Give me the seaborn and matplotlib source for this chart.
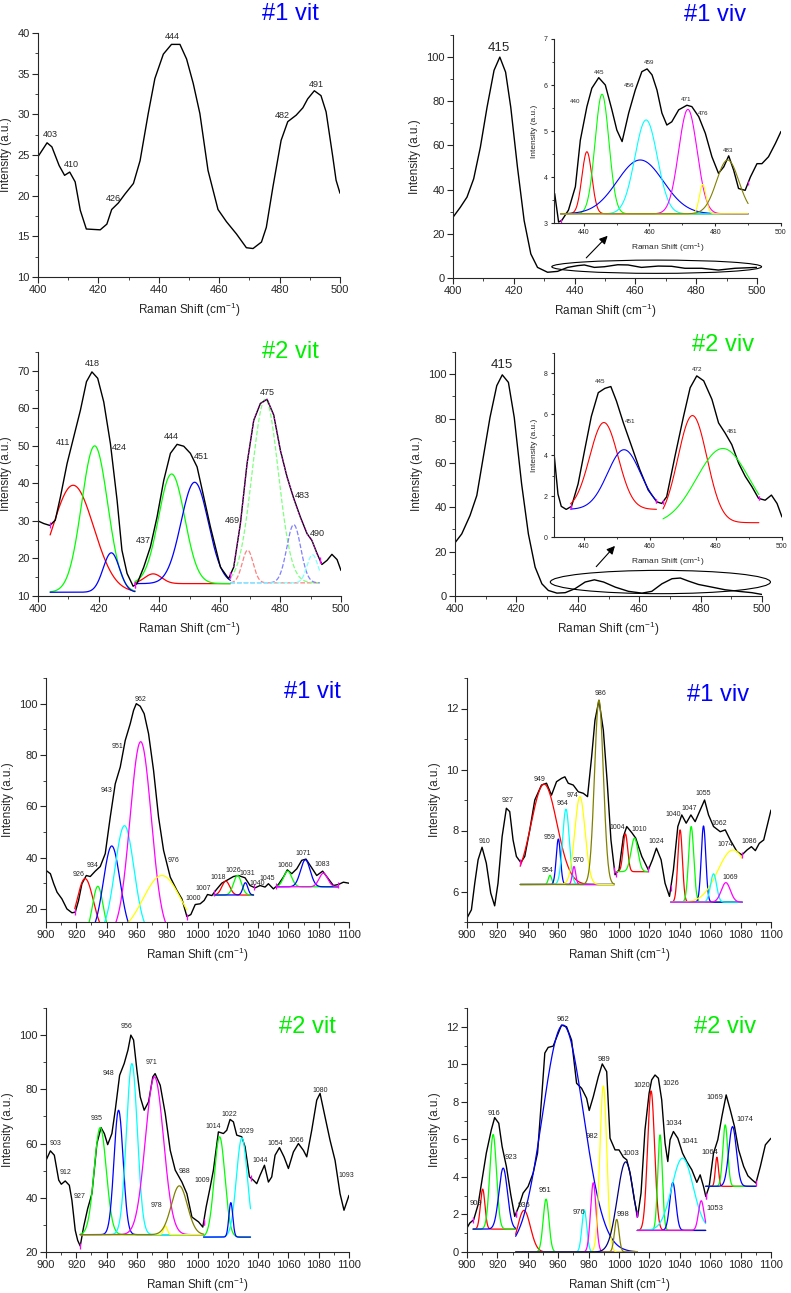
import matplotlib
matplotlib.use('Agg')

import numpy as np
import matplotlib.pyplot as plt
from matplotlib.patches import Ellipse
from matplotlib.ticker import MultipleLocator, AutoMinorLocator
import seaborn as sns

W, H = 791, 1293

R, G, B, C, M, Y, O = '#ff0000', '#00ff00', '#0000ff', '#00ffff', '#ff00ff', '#ffff00', '#808000'
NAVY = '#000080'
PR, PG, PB, PC = '#ff8080', '#80ff80', '#8080ff', '#80ffff'

# ---------------- #1 vit, 400-500 ----------------
vit1_lo_x = [400, 403, 404.6, 407, 408.8, 410.5, 412.3, 414, 416, 420.6, 422.8, 424.4, 426.6, 428.8, 431.6,
             433.8, 436.5, 438.7, 441.5, 444.2, 447, 449.2, 451.4, 453.6, 456.3, 459.6, 462.4, 465.7, 469,
             471.2, 474, 475.6, 477.8, 480.5, 482.7, 485.5, 487.7, 489.3, 491.5, 493.7, 495.4, 497.6, 498.7, 500]
vit1_lo_y = [24.8, 26.5, 26.0, 23.7, 22.5, 22.9, 21.7, 18.2, 15.9, 15.8, 16.5, 18.3, 19.1, 20.2, 21.5,
             24.3, 30.1, 34.4, 37.4, 38.6, 38.6, 36.8, 33.8, 30.1, 23.1, 18.3, 16.8, 15.3, 13.6,
             13.5, 14.3, 16.1, 21.1, 26.8, 29.1, 29.9, 30.8, 31.9, 32.9, 32.3, 30.3, 24.8, 21.9, 20.3]
vit1_lo_tags = ['403', '410', '426', '444', '482', '491']
vit1_lo_tag_x = [404, 411, 425, 444.4, 480.9, 492]
vit1_lo_tag_y = [27.5, 23.8, 19.7, 39.6, 29.8, 33.7]

# ---------------- #1 viv, 400-500 ----------------
viv1_lo_x = [400, 402.4, 404.6, 406.8, 409, 411.2, 413.5, 415.4, 417.3, 419, 421.2, 423.4, 425.6, 427.8,
             431.1, 434.4, 437.7, 441, 443.2, 446.5, 449.8, 454.2, 457.6, 462, 467.5, 471.9, 476.3,
             481.8, 487.3, 492.8, 500]
viv1_lo_y = [27.5, 32, 36.6, 44.9, 59.2, 77.3, 94, 100, 93.2, 77.3, 50.2, 26, 10.9, 4.8,
             2.6, 3.0, 4.8, 5.6, 5.9, 4.8, 5.1, 6.0, 5.9, 4.8, 5.4, 5.3, 4.4,
             4.4, 3.6, 4.4, 4.8]
# zoomed inset
viv1_in_x = [431.2, 432.4, 433.4, 435.4, 437.5, 439, 441, 442.5, 444.6, 446.6, 448.6, 450.1, 451.7, 453.7,
             455.7, 457.7, 459.3, 460.8, 462.3, 463.8, 465.3, 466.8, 468.9, 471.4, 472.9, 475, 477, 479,
             481, 482.6, 484.1, 485.6, 487.1, 489.1, 490.7, 492.7, 494.2, 496.2, 498.3, 500]
viv1_in_y = [3.64, 3.02, 3.06, 3.28, 3.79, 4.80, 5.53, 5.93, 6.16, 6.0, 5.46, 5.02, 4.77, 5.39,
             5.89, 6.29, 6.35, 6.22, 5.89, 5.39, 5.13, 5.2, 5.46, 5.56, 5.53, 5.31, 4.95, 4.44,
             4.08, 4.22, 4.46, 4.15, 3.75, 3.71, 4.0, 4.29, 4.29, 4.44, 4.73, 4.99]
viv1_in_range = [(433, 490)]
viv1_in_base = [3.2]
viv1_in_group = [0, 0, 0, 0, 0, 0, 0]
viv1_in_center = [441.0, 445.6, 457.2, 459.0, 471.7, 476.2, 483.8]
viv1_in_peak = [4.55, 5.8, 4.37, 5.24, 5.47, 3.84, 4.37]
viv1_in_sigma = [1.5, 2.1, 7.0, 3.4, 2.8, 1.0, 3.4]
viv1_in_colors = [R, G, B, C, M, Y, O]
viv1_in_tags = ['440', '445', '456', '459', '471', '476', '483']
viv1_in_tag_x = [437.5, 444.8, 453.7, 460, 471.1, 476.2, 484]
viv1_in_tag_y = [5.64, 6.28, 5.98, 6.5, 5.68, 5.39, 4.57]

# ---------------- #2 vit, 400-500 ----------------
vit2_lo_x = [400, 401.9, 403.9, 405.7, 407.4, 409.6, 411.8, 414, 416, 417.8, 419.7, 421.7, 423.9, 426.1,
             427.7, 429.4, 431.4, 432.7, 434.9, 437.1, 439.3, 441.5, 443.7, 445.9, 448.1, 450.3, 452.5,
             454.7, 456.9, 460.2, 462.9, 464.6, 466.8, 469, 471.2, 473.4, 475.6, 477.8, 480, 482.2,
             484.4, 486.6, 488.8, 490.4, 492.1, 493.7, 495.4, 497, 498.7, 500]
vit2_lo_y = [30.0, 29.3, 28.8, 30.2, 36.4, 45.3, 52.4, 59.5, 67.1, 69.7, 68.0, 61.7, 50.6, 35.5,
             22.2, 16.0, 12.6, 13.3, 17.7, 23.1, 31.1, 40.8, 48.0, 50.4, 49.9, 48.0, 44.4,
             36.4, 28.4, 17.7, 14.6, 17.7, 29.3, 45.3, 56.8, 61.3, 62.4, 58.2, 48.8, 41.7,
             36.0, 31.0, 26.6, 24.8, 21.3, 18.4, 19.5, 21.1, 19.7, 16.8]
vit2_lo_range = [(404, 432), (432, 463.5), (463.5, 493)]
vit2_lo_base = [11.0, 13.3, 13.5]
vit2_lo_group = [0, 0, 0, 1, 1, 1, 2, 2, 2, 2]
vit2_lo_center = [411.6, 418.7, 424.2, 438.0, 444.1, 451.7, 469.2, 475.0, 484.4, 490.6]
vit2_lo_peak = [39.5, 50.0, 21.5, 15.9, 42.5, 40.3, 22.2, 62.4, 29.0, 21.0]
vit2_lo_sigma = [6.8, 4.3, 2.7, 2.8, 4.3, 4.5, 1.8, 4.3, 2.3, 1.8]
vit2_lo_colors = [R, G, B, R, G, B, PR, PG, PB, PC]
vit2_lo_styles = ['-'] * 6 + ['--'] * 4
vit2_lo_tags = ['411', '418', '424', '437', '444', '451', '469', '475', '483', '490']
vit2_lo_tag_x = [408.1, 418, 426.8, 434.7, 444, 453.9, 464.2, 475.6, 487.1, 492.3]
vit2_lo_tag_y = [50.8, 72, 49.5, 24.7, 52.4, 47.1, 30, 64.1, 36.7, 26.6]

# ---------------- #2 viv, 400-500 ----------------
viv2_lo_x = [400, 402.2, 404.9, 407.1, 409.2, 411.4, 413.6, 415.4, 417.4, 419.3, 421.7, 423.9, 426.1,
             428.3, 430.4, 433.2, 435.9, 439.1, 442.4, 445.4, 448.4, 452.2, 456.5, 460.9, 464.1, 467.4,
             470.7, 473.4, 476.1, 479.3, 483.7, 488, 492.4, 496.7, 500]
viv2_lo_y = [24, 28, 36.3, 45.3, 62.5, 80.5, 94.8, 99.7, 96.3, 80.5, 50.5, 28, 13,
             5.5, 2.5, 1.3, 1.5, 3.3, 6.3, 7.3, 6.3, 4, 2.1, 1.3, 2.1, 5.5,
             7.8, 8.1, 6.7, 5.2, 4, 2.8, 2.1, 1.5, 0.7]
viv2_in_x = [431, 432.2, 433.2, 434.7, 436.3, 438.3, 440.3, 442.3, 444.4, 446.4, 448.2, 449.9, 452,
             454.5, 457, 459.5, 462.1, 463.6, 465.1, 467.6, 470.2, 472.2, 474.2, 476.3, 478.8, 480.8,
             482.8, 484.8, 486.9, 488.9, 490.9, 492.9, 494.9, 496.8, 498.5, 500]
viv2_in_y = [4.1, 2.1, 1.5, 1.35, 1.5, 2.6, 4.27, 5.9, 7.06, 7.27, 7.36, 6.65, 5.58,
             4.43, 3.28, 2.3, 1.72, 1.64, 1.97, 3.94, 5.9, 7.3, 7.88, 7.64, 6.73, 5.58,
             5.08, 4.52, 3.6, 2.96, 2.46, 1.89, 1.8, 2.05, 1.64, 0.98]
viv2_in_range = [(436, 462), (436, 462), (464, 493), (464, 493)]
viv2_in_base = [1.35, 1.35, 0.7, 0.6]
viv2_in_group = [0, 1, 2, 3]
viv2_in_center = [446.1, 452.2, 472.9, 482.1]
viv2_in_peak = [5.6, 4.27, 5.94, 4.33]
viv2_in_sigma = [4.3, 5.0, 4.4, 8.0]
viv2_in_colors = [R, B, R, G]
viv2_in_tags = ['445', '451', '472', '481']
viv2_in_tag_x = [445, 454, 474.2, 484.8]
viv2_in_tag_y = [7.6, 5.67, 8.2, 5.16]

# ---------------- #1 vit, 900-1100 ----------------
vit1_hi_x = [900, 902.9, 905.1, 907.3, 910.5, 913.8, 917.1, 919.3, 921.5, 923.7, 926.6, 929.2, 932.5,
             935.8, 939.1, 942.4, 945.7, 949, 952.3, 955.6, 957.8, 959.6, 962.2, 964.8, 967.7, 971,
             974.3, 977.6, 982, 986.4, 989.7, 993, 995.6, 998.5, 1001.8, 1004.4, 1006.6, 1009.5,
             1012.3, 1016, 1019.3, 1023.7, 1027, 1031.4, 1034.7, 1038, 1041.3, 1044.6, 1046.8, 1050.1,
             1053.4, 1056.7, 1059.3, 1062.2, 1065.5, 1068.8, 1071.6, 1075.4, 1078.7, 1082.6, 1086.4,
             1089.7, 1093, 1096.3, 1100]
vit1_hi_y = [35.1, 33.8, 29.9, 26.6, 24, 20.1, 18.6, 18.8, 23.4, 29.9, 33.1, 32.7, 34.8,
             36.6, 41.6, 55.8, 68.8, 75.3, 85.7, 92.2, 97.4, 100, 99, 96.1, 88.3, 74,
             55.8, 42.9, 32.5, 27.3, 24, 17.1, 17.9, 21.8, 22.1, 23.4, 25.7, 25.3,
             27.5, 30.1, 31.2, 32.7, 33.1, 32.2, 29.2, 28.3, 29.2, 28.6, 29.9, 27.9,
             29.6, 32.5, 35.3, 33.8, 35.7, 39, 39.5, 36.1, 33.1, 34.8, 31.8,
             29.2, 29.6, 30.5, 30.1]
vit1_hi_range = [(919, 993), (1011, 1037), (1052, 1093)]
vit1_hi_base = [10, 25.5, 28.7]
vit1_hi_group = [0, 0, 0, 0, 0, 0, 1, 1, 1, 2, 2, 2]
vit1_hi_center = [925.8, 934.2, 943.4, 951.8, 962.5, 976.5, 1018.7, 1026.4, 1031.6, 1059.5, 1071.2, 1083.1]
vit1_hi_peak = [31.9, 28.9, 44.6, 52.5, 85.2, 33.1, 30.9, 33.1, 30.3, 34.8, 39.2, 34.0]
vit1_hi_sigma = [5.5, 3.5, 5.5, 6.3, 7.0, 12.5, 2.6, 2.6, 1.6, 2.7, 3.2, 2.8]
vit1_hi_colors = [R, G, B, C, M, Y, R, G, B, G, B, M]
vit1_hi_tags = ['926', '934', '943', '951', '962', '976', '1000', '1007', '1018', '1026', '1031',
                '1040', '1045', '1060', '1071', '1083']
vit1_hi_tag_x = [921.5, 931, 939.8, 947.3, 962.6, 984.2, 997, 1004, 1013.8, 1023.7, 1033,
                 1039.6, 1045.7, 1058.2, 1069.9, 1082.6]
vit1_hi_tag_y = [33.5, 37, 66.2, 83.5, 101.6, 39, 24, 27.9, 32.5, 35.1, 33.8,
                 29.9, 31.8, 37, 41.8, 37.3]

# ---------------- #1 viv, 900-1100 ----------------
viv1_hi_x = [900, 902.9, 905.1, 907.3, 909.9, 912.7, 915.6, 918.2, 920.4, 923.1, 925.9, 928.1, 930.3,
             932.5, 935.4, 938, 941.3, 944.6, 949, 952.3, 955.6, 958.9, 962.2, 964.4, 966.6, 969.9,
             973.2, 976.5, 979.3, 982, 984.2, 986.8, 989.7, 992.3, 994.7, 997.4, 1000, 1002.9, 1005.1,
             1008.4, 1011, 1015, 1019.3, 1022, 1024.6, 1027.7, 1030.3, 1033.2, 1035.8, 1038.7, 1041.3,
             1044.2, 1047.3, 1050.1, 1053.4, 1056.3, 1058.9, 1062.2, 1066.6, 1069.9, 1073.2, 1077.6,
             1080.9, 1084.2, 1087.1, 1089.7, 1092.3, 1095.2, 1100]
viv1_hi_y = [5.13, 5.4, 6.27, 7.04, 7.45, 6.93, 5.95, 5.53, 6.27, 7.8, 8.73, 8.62, 7.69,
             7.15, 6.95, 7.15, 8.02, 9.0, 9.49, 9.55, 9.16, 9.6, 9.71, 9.76, 9.55, 9.49,
             9.27, 9.22, 9.11, 10.42, 11.62, 12.27, 11.29, 9.55, 7.69, 6.55, 6.71, 7.8, 8.13,
             7.93, 7.75, 7.15, 6.71, 7.04, 7.42, 7.04, 6.27, 5.84, 6.71, 8.13, 8.51,
             8.24, 8.51, 8.29, 8.67, 9.0, 8.51, 8.13, 7.96, 8.02, 7.69, 7.31,
             7.2, 7.36, 7.47, 7.34, 7.58, 7.69, 8.67]
viv1_hi_range = [(935, 997), (998, 1019), (1034, 1081)]
viv1_hi_base = [6.23, 6.65, 5.65]
viv1_hi_group = [0, 0, 0, 0, 0, 0, 0, 1, 1, 2, 2, 2, 2, 2, 2]
viv1_hi_center = [950.7, 954.6, 960.1, 965.1, 970.4, 974.3, 986.8, 1004.2, 1010.2,
                  1040.2, 1047.5, 1055.6, 1075.0, 1062.2, 1070.3]
viv1_hi_peak = [9.52, 6.53, 7.72, 8.70, 6.82, 9.11, 12.27, 7.89, 7.75,
                8.02, 8.13, 8.15, 7.36, 6.58, 6.29]
viv1_hi_sigma = [8.5, 1.1, 1.4, 2.2, 1.1, 3.4, 2.9, 1.5, 2.3,
                 1.5, 1.7, 1.5, 10.0, 2.0, 3.0]
viv1_hi_colors = [R, G, B, C, M, Y, O, R, G, R, G, B, Y, C, M]
viv1_hi_tags = ['910', '927', '949', '954', '959', '964', '970', '974', '986', '1004', '1010', '1024',
                '1040', '1047', '1055', '1062', '1074', '1086', '1069']
viv1_hi_tag_x = [911.8, 926.7, 948, 953, 954.5, 962.9, 973.2, 969.5, 988, 999.1, 1013.2, 1024.8,
                 1035.8, 1046.2, 1055.6, 1066, 1069.9, 1085.7, 1073.2]
viv1_hi_tag_y = [7.64, 8.98, 9.68, 6.68, 7.78, 8.89, 7.01, 9.14, 12.49, 8.1, 8.02, 7.63,
                 8.54, 8.72, 9.2, 8.24, 7.53, 7.64, 6.47]

# ---------------- #2 vit, 900-1100 ----------------
vit2_hi_x = [900, 902.9, 905.5, 908.4, 910.1, 912.7, 915.4, 917.1, 919.3, 920.9, 922.6, 924.8, 927.5,
             930.3, 933.6, 936.3, 938.5, 940.7, 943.5, 945.7, 948.6, 951.6, 954.1, 956, 957.8, 960,
             962.2, 964.8, 967.7, 970.5, 972, 975.4, 978.7, 982, 985.3, 989.7, 993, 996.3, 1000.7,
             1003.5, 1005.7, 1008.4, 1010.5, 1013.8, 1017.1, 1019.3, 1021.5, 1023.7, 1025.9, 1029.2,
             1031.4, 1034.3, 1036.9, 1039.1, 1041.3, 1044.2, 1046.8, 1049, 1051.2, 1054.1, 1057.1,
             1060, 1063.3, 1066.6, 1069.9, 1072.1, 1075.4, 1078.7, 1080.9, 1084.2, 1087.5, 1090.8,
             1094.1, 1096.7, 1100]
vit2_hi_y = [53.8, 57.3, 55.7, 46.5, 45, 46.2, 44.6, 39.1, 28, 24.3, 22.2, 29.2, 36,
             41.5, 60, 65.9, 63.7, 59.6, 63.7, 72.3, 85.2, 89.5, 94.5, 100, 98.2, 87.1,
             77.2, 72.3, 75.4, 84.6, 85.8, 81.5, 71.1, 57.5, 50.2, 45.8, 41.5, 32.9, 31.1,
             29.2, 36.6, 44, 50.2, 64.3, 63.7, 64.9, 68.9, 68, 63.1, 62.5,
             58.8, 47.7, 46.5, 45.2, 48.3, 52, 45.8, 47.7, 55.7, 58.5, 55.1,
             50.8, 56.9, 60, 57.5, 55.1, 64.9, 76, 78.5, 69.8, 61.2, 53.8,
             41.5, 35.4, 40.9]
vit2_hi_range = [(922.5, 1004), (1004, 1035)]
vit2_hi_base = [26.4, 25.5]
vit2_hi_group = [0, 0, 0, 0, 0, 0, 1, 1, 1]
vit2_hi_center = [935.8, 947.9, 956.7, 971.6, 978.8, 988.0, 1014.6, 1029.3, 1022.0]
vit2_hi_peak = [65.9, 72.3, 89.5, 84.6, 29.6, 44.4, 62.5, 62.1, 38.2]
vit2_hi_sigma = [4.0, 3.0, 3.6, 6.0, 1.2, 5.3, 3.5, 3.6, 1.3]
vit2_hi_colors = [G, B, C, M, Y, O, G, C, B]
vit2_hi_tags = ['903', '912', '927', '935', '948', '956', '971', '978', '988', '1009', '1014', '1022',
                '1029', '1044', '1054', '1066', '1080', '1093']
vit2_hi_tag_x = [906.2, 913.2, 922.2, 933.2, 941.3, 953.4, 969.5, 973, 991.2, 1002.9, 1010.1, 1021.1,
                 1032.5, 1041.3, 1051.6, 1065, 1080.9, 1098.5]
vit2_hi_tag_y = [60.2, 49.3, 40.3, 69.1, 85.8, 103.3, 89.8, 37, 49.8, 46.5, 66.4, 70.8,
                 64.6, 53.8, 60, 61.2, 79.7, 48.3]

# ---------------- #2 viv, 900-1100 ----------------
viv2_hi_x = [900, 901.8, 904.4, 907.3, 909.9, 912.7, 916, 918.2, 920.9, 923.1, 925.9, 928.8, 931.4,
             934.1, 936.9, 940.2, 943.5, 946.4, 949, 951.2, 953.4, 956.7, 960, 962.2, 965.5, 968.8,
             972.1, 975.4, 978.7, 980.4, 983.1, 986.4, 989, 991.9, 994.1, 997.4, 1000, 1002.9, 1005.1,
             1007.3, 1010.1, 1012.3, 1014.5, 1017.1, 1019.8, 1021.5, 1023.7, 1025.9, 1028.1, 1030.3,
             1032.1, 1033.6, 1035.8, 1038.7, 1041.8, 1044.6, 1047.9, 1051.2, 1053.4, 1055.6, 1057.1,
             1059.3, 1062.2, 1065, 1067.7, 1070.5, 1073.2, 1076, 1078.7, 1082, 1084.8, 1087.5,
             1090.1, 1093, 1096.3, 1100]
viv2_hi_y = [1.28, 1.54, 1.72, 2.52, 3.85, 5.27, 6.51, 7.16, 6.86, 5.62, 4.56, 3.05, 1.9,
             2.43, 3.14, 3.49, 4.2, 5.27, 8.1, 10.6, 10.9, 10.97, 11.65, 12.09, 12.0, 11.29,
             8.99, 8.72, 8.19, 7.54, 8.28, 9.34, 10.02, 9.61, 6.06, 5.44, 5.44, 5.05, 4.91,
             4.2, 2.78, 1.9, 3.14, 6.51, 8.46, 9.17, 9.43, 9.26, 8.1, 5.8,
             4.82, 5.98, 6.42, 6.06, 5.27, 4.82, 4.38, 3.71, 4.11, 3.49, 2.96,
             3.49, 5.27, 5.98, 7.22, 8.37, 7.57, 6.68, 5.44, 4.56, 4.06, 3.85,
             3.67, 4.56, 5.71, 6.06]
viv2_hi_range = [(904, 932), (932, 1012), (1012, 1057), (1057, 1090)]
viv2_hi_base = [1.22, 0.0, 1.15, 3.5]
viv2_hi_group = [0, 0, 0, 1, 1, 1, 1, 1, 1, 1, 1, 2, 2, 2, 2, 2, 3, 3, 3]
viv2_hi_center = [910.3, 917.2, 923.8, 937.5, 952.0, 963.2, 977.2, 983.1, 989.7, 998.5, 1004.4,
                  1021.1, 1027.0, 1035.4, 1041.8, 1054.1, 1064.4, 1069.9, 1074.7]
viv2_hi_peak = [3.35, 6.26, 4.47, 2.22, 2.82, 12.09, 2.24, 3.69, 8.85, 1.74, 4.8,
                8.58, 6.24, 3.7, 5.0, 2.73, 5.05, 6.77, 6.68]
viv2_hi_sigma = [1.5, 2.2, 2.8, 4.2, 1.9, 13.5, 1.6, 1.8, 2.3, 1.5, 5.5,
                 2.3, 1.5, 2.0, 7.0, 1.8, 1.0, 1.6, 2.5]
viv2_hi_colors = [R, G, B, R, G, B, C, M, Y, O, NAVY, R, G, B, C, M, R, G, B]
viv2_hi_tags = ['909', '916', '923', '936', '951', '962', '976', '982', '989', '998', '1003', '1020',
                '1026', '1034', '1041', '1053', '1064', '1069', '1074']
viv2_hi_tag_x = [905.7, 917.8, 929.2, 937.4, 951.6, 962.9, 973.8, 982, 990.3, 1002.9, 1007.9, 1014.9,
                 1034, 1036.3, 1046.4, 1062.9, 1060, 1063.3, 1083.1]
viv2_hi_tag_y = [2.6, 7.4, 5.05, 2.5, 3.3, 12.4, 2.13, 6.15, 10.27, 1.99, 5.23, 8.87,
                 8.99, 6.83, 5.89, 2.3, 5.3, 8.24, 7.04]


def px_axes(fig, left, right, top, bottom):
    # axes box given in pixels of the final image
    return fig.add_axes([left / W, 1 - bottom / H, (right - left) / W, (bottom - top) / H])


def setup(ax, xlim, ylim, xstep, ystep, tick=8, lab=8.5, tlen=4):
    ax.set_xlim(*xlim)
    ax.set_ylim(*ylim)
    ax.xaxis.set_major_locator(MultipleLocator(xstep))
    ax.yaxis.set_major_locator(MultipleLocator(ystep))
    ax.xaxis.set_minor_locator(AutoMinorLocator(2))
    ax.yaxis.set_minor_locator(AutoMinorLocator(2))
    ax.tick_params(which='major', direction='out', length=tlen, width=0.8, labelsize=tick, pad=2)
    ax.tick_params(which='minor', direction='out', length=tlen / 2, width=0.6)
    ax.set_xlabel('Raman Shift (cm$^{-1}$)', fontsize=lab)
    ax.set_ylabel('Intensity (a.u.)', fontsize=lab)
    ax.set_facecolor('none')
    sns.despine(ax=ax)


def draw_spectrum(ax, x, y):
    sns.lineplot(x=x, y=y, ax=ax, color='black', lw=1.0)


def draw_fit(ax, ranges, bases, group, centers, peaks, sigmas, colors, styles=None, lw=0.9):
    # each fitted band is a gaussian drawn over its own fitting window
    if styles is None:
        styles = ['-'] * len(centers)
    for g, c, p, s, col, ls in zip(group, centers, peaks, sigmas, colors, styles):
        lo, hi = ranges[g]
        b = bases[g]
        xs = np.linspace(lo, hi, 300)
        ys = b + (p - b) * np.exp(-0.5 * ((xs - c) / s) ** 2)
        sns.lineplot(x=xs, y=ys, ax=ax, color=col, lw=lw, linestyle=ls)


def mark_ends(ax, ranges, sx, sy, ms=4):
    for lo, hi in ranges:
        for x in (lo, hi):
            ax.plot(x, np.interp(x, sx, sy), marker='|', color=M, ms=ms, mew=0.9)


def add_tags(ax, tags, xs, ys, size):
    for t, x, y in zip(tags, xs, ys):
        ax.text(x, y, t, ha='center', va='center', fontsize=size)


sns.set_theme(style='ticks')
plt.rcParams['font.family'] = ['Liberation Sans', 'DejaVu Sans']
plt.rcParams['mathtext.default'] = 'regular'
plt.rcParams['axes.linewidth'] = 0.8

fig = plt.figure(figsize=(W / 100, H / 100), dpi=100)

# ---- row 1, left: #1 vit ----
ax = px_axes(fig, 38, 340, 33, 277)
draw_spectrum(ax, vit1_lo_x, vit1_lo_y)
add_tags(ax, vit1_lo_tags, vit1_lo_tag_x, vit1_lo_tag_y, 6.5)
setup(ax, (400, 500), (10, 40), 20, 5)

# ---- row 1, right: #1 viv with inset ----
ax = px_axes(fig, 453, 757, 35, 278)
draw_spectrum(ax, viv1_lo_x, viv1_lo_y)
ax.text(415.1, 104, '415', ha='center', va='center', fontsize=9.5)
ax.add_patch(Ellipse((467, 5.1), 69, 6, fill=False, lw=0.8, ec='black', clip_on=False))
ax.annotate('', xy=(451.5, 20), xytext=(443.2, 8.2),
            arrowprops=dict(arrowstyle='-|>', color='black', lw=0.8, mutation_scale=12))
setup(ax, (400, 500), (0, 110), 20, 20)

ins = px_axes(fig, 554, 781, 39, 223)
draw_spectrum(ins, viv1_in_x, viv1_in_y)
draw_fit(ins, viv1_in_range, viv1_in_base, viv1_in_group, viv1_in_center, viv1_in_peak,
         viv1_in_sigma, viv1_in_colors, lw=0.8)
mark_ends(ins, viv1_in_range, viv1_in_x, viv1_in_y, ms=3)
add_tags(ins, viv1_in_tags, viv1_in_tag_x, viv1_in_tag_y, 4.5)
setup(ins, (431, 500), (3, 7), 20, 1, tick=5, lab=6, tlen=2.5)

# ---- row 2, left: #2 vit ----
ax = px_axes(fig, 38, 341, 352, 596)
draw_fit(ax, vit2_lo_range, vit2_lo_base, vit2_lo_group, vit2_lo_center, vit2_lo_peak,
         vit2_lo_sigma, vit2_lo_colors, styles=vit2_lo_styles)
draw_spectrum(ax, vit2_lo_x, vit2_lo_y)
# cumulative fit of the last window sits on top of the data
sx = np.array(vit2_lo_x)
sy = np.array(vit2_lo_y)
sel = (sx >= 463) & (sx <= 493.7)
sns.lineplot(x=sx[sel], y=sy[sel], ax=ax, color=M, lw=0.8, linestyle=':')
mark_ends(ax, vit2_lo_range, vit2_lo_x, vit2_lo_y)
add_tags(ax, vit2_lo_tags, vit2_lo_tag_x, vit2_lo_tag_y, 6.5)
setup(ax, (400, 500), (10, 75), 20, 10)

# ---- row 2, right: #2 viv with inset ----
ax = px_axes(fig, 455, 762, 352, 596)
draw_spectrum(ax, viv2_lo_x, viv2_lo_y)
ax.text(415.2, 104, '415', ha='center', va='center', fontsize=9.5)
ax.add_patch(Ellipse((466.9, 6.3), 71.7, 10.5, fill=False, lw=0.8, ec='black', clip_on=False))
ax.annotate('', xy=(452.7, 23.5), xytext=(445.4, 12.3),
            arrowprops=dict(arrowstyle='-|>', color='black', lw=0.8, mutation_scale=12))
setup(ax, (400, 500), (0, 110), 20, 20)

ins = px_axes(fig, 554, 782, 353, 537)
draw_spectrum(ins, viv2_in_x, viv2_in_y)
draw_fit(ins, viv2_in_range, viv2_in_base, viv2_in_group, viv2_in_center, viv2_in_peak,
         viv2_in_sigma, viv2_in_colors, lw=0.8)
mark_ends(ins, viv2_in_range, viv2_in_x, viv2_in_y, ms=3)
add_tags(ins, viv2_in_tags, viv2_in_tag_x, viv2_in_tag_y, 4.5)
setup(ins, (431, 500), (0, 9), 20, 2, tick=5, lab=6, tlen=2.5)

# ---- row 3, left: #1 vit high range ----
ax = px_axes(fig, 46, 349, 678, 922)
draw_spectrum(ax, vit1_hi_x, vit1_hi_y)
draw_fit(ax, vit1_hi_range, vit1_hi_base, vit1_hi_group, vit1_hi_center, vit1_hi_peak,
         vit1_hi_sigma, vit1_hi_colors)
mark_ends(ax, vit1_hi_range, vit1_hi_x, vit1_hi_y)
add_tags(ax, vit1_hi_tags, vit1_hi_tag_x, vit1_hi_tag_y, 5)
setup(ax, (900, 1100), (15, 110), 20, 20)

# ---- row 3, right: #1 viv high range ----
ax = px_axes(fig, 467, 771, 678, 922)
draw_spectrum(ax, viv1_hi_x, viv1_hi_y)
draw_fit(ax, viv1_hi_range, viv1_hi_base, viv1_hi_group, viv1_hi_center, viv1_hi_peak,
         viv1_hi_sigma, viv1_hi_colors)
mark_ends(ax, viv1_hi_range, viv1_hi_x, viv1_hi_y)
add_tags(ax, viv1_hi_tags, viv1_hi_tag_x, viv1_hi_tag_y, 5)
setup(ax, (900, 1100), (5, 13), 20, 2)

# ---- row 4, left: #2 vit high range ----
ax = px_axes(fig, 46, 349, 1008, 1252)
draw_spectrum(ax, vit2_hi_x, vit2_hi_y)
draw_fit(ax, vit2_hi_range, vit2_hi_base, vit2_hi_group, vit2_hi_center, vit2_hi_peak,
         vit2_hi_sigma, vit2_hi_colors)
mark_ends(ax, vit2_hi_range, vit2_hi_x, vit2_hi_y)
add_tags(ax, vit2_hi_tags, vit2_hi_tag_x, vit2_hi_tag_y, 5)
setup(ax, (900, 1100), (20, 110), 20, 20)

# ---- row 4, right: #2 viv high range ----
ax = px_axes(fig, 467, 771, 1008, 1252)
draw_spectrum(ax, viv2_hi_x, viv2_hi_y)
draw_fit(ax, viv2_hi_range, viv2_hi_base, viv2_hi_group, viv2_hi_center, viv2_hi_peak,
         viv2_hi_sigma, viv2_hi_colors)
mark_ends(ax, viv2_hi_range, viv2_hi_x, viv2_hi_y)
add_tags(ax, viv2_hi_tags, viv2_hi_tag_x, viv2_hi_tag_y, 5.5)
setup(ax, (900, 1100), (0, 13), 20, 2)

# sample titles
titles = ['#1 vit', '#1 viv', '#2 vit', '#2 viv', '#1 vit', '#1 viv', '#2 vit', '#2 viv']
title_colors = ['#0000ff', '#0000ff', '#00ee00', '#00ee00', '#0000ff', '#0000ff', '#00ee00', '#00ee00']
title_px = [(290, 14), (715, 15), (290, 352), (723, 345), (312, 692), (718, 695), (307, 1027), (725, 1027)]
for t, col, (px, py) in zip(titles, title_colors, title_px):
    fig.text(px / W, 1 - py / H, t, color=col, fontsize=17, ha='center', va='center')

plt.savefig('out.png', dpi=100)
plt.close()
